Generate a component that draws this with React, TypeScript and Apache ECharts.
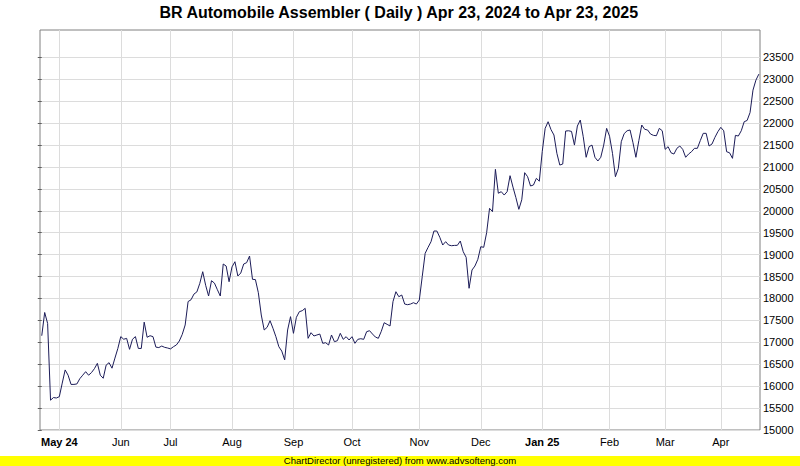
import React, { useEffect, useRef } from "react";
import * as echarts from "echarts";

const TITLE = "BR Automobile Assembler ( Daily ) Apr 23, 2024 to Apr 23, 2025";
const FOOTER = "ChartDirector (unregistered) from www.advsofteng.com";

// month label positions (trading-day index) and texts
const monthIdx = [6, 27, 44, 65, 86, 106, 129, 150, 171, 194, 213, 232];
const monthLabels = ["May 24", "Jun", "Jul", "Aug", "Sep", "Oct", "Nov", "Dec", "Jan 25", "Feb", "Mar", "Apr"];
const boldLabels = ["May 24", "Jan 25"];

const yTicks = [15000, 15500, 16000, 16500, 17000, 17500, 18000, 18500, 19000, 19500, 20000, 20500, 21000, 21500, 22000, 22500, 23000, 23500];

// daily close values, one per trading day
const values = [
  17150, 17680, 17430, 15680, 15740, 15730, 15760, 16070, 16370, 16250,
  16040, 16040, 16050, 16170, 16250, 16330, 16250, 16310, 16400, 16520,
  16250, 16180, 16480, 16535, 16410, 16640, 16860, 17130, 17070, 17090,
  16840, 17070, 17130, 16860, 16860, 17460, 17115, 17150, 17130, 16890,
  16880, 16915, 16885, 16870, 16850, 16900, 16940, 17030, 17180, 17395,
  17930, 17970, 18100, 18150, 18345, 18610, 18300, 18056, 18405, 18350,
  18200, 18056, 18786, 18740, 18382, 18720, 18838, 18512, 18580, 18786,
  18816, 18968, 18437, 18430, 18132, 17623, 17281, 17342, 17493, 17319,
  17128, 16900, 16800, 16600, 17281, 17585, 17205, 17570, 17698, 17721,
  17775, 17091, 17219, 17144, 17167, 17189, 16977, 16991, 16938, 17167,
  17014, 17037, 17205, 17068, 17128, 17053, 17128, 16977, 17068, 17082,
  17068, 17242, 17265, 17189, 17120, 17091, 17250, 17447, 17410, 17372,
  17927, 18154, 18040, 18079, 17873, 17858, 17873, 17903, 17873, 17965,
  18500, 19030, 19167, 19295, 19538, 19538, 19395, 19219, 19295, 19219,
  19203, 19210, 19212, 19310, 19066, 18938, 18232, 18649, 18740, 18893,
  19180, 19167, 19500, 20056, 19980, 20945, 20400, 20435, 20359, 20435,
  20800, 20540, 20300, 20033, 20250, 20869, 20777, 20565, 20588, 20740,
  20675, 21350, 21880, 22031, 21850, 21728, 21310, 21043, 21066, 21819,
  21825, 21810, 21498, 21933, 22069, 21690, 21220, 21462, 21498, 21220,
  21135, 21220, 21498, 21880, 21700, 21310, 20777, 20968, 21575, 21760,
  21825, 21842, 21552, 21220, 21600, 21956, 21858, 21842, 21750, 21720,
  21712, 21880, 21825, 21401, 21462, 21323, 21294, 21424, 21477, 21401,
  21220, 21294, 21347, 21424, 21424, 21600, 21766, 21766, 21477, 21523,
  21675, 21803, 21903, 21825, 21347, 21323, 21196, 21720, 21705, 21825,
  22031, 22060, 22240, 22751, 22979, 23116,
];

export default function App() {
  const ref = useRef<HTMLDivElement>(null);

  useEffect(() => {
    if (!ref.current) return;
    const chart = echarts.init(ref.current, null, { renderer: "svg" });
    const font = "'Liberation Sans', Arial, sans-serif";
    const option = {
      animation: false,
      backgroundColor: "#ffffff",
      textStyle: { fontFamily: font },
      grid: {
        left: 40,
        top: 30,
        width: 720,
        height: 400,
        show: true,
        backgroundColor: "#ffffff",
        borderColor: "#808080",
        borderWidth: 1,
      },
      xAxis: {
        type: "value",
        min: -0.6,
        max: 245.4,
        axisLine: { show: false },
        axisTick: { show: false, customValues: monthIdx },
        axisLabel: {
          customValues: monthIdx,
          fontSize: 11,
          fontFamily: font,
          color: "#000000",
          margin: 6,
          formatter: (val: number) => {
            const k = monthIdx.indexOf(Math.round(val));
            if (k < 0) return "";
            const t = monthLabels[k];
            return boldLabels.includes(t) ? `{b|${t}}` : t;
          },
          rich: {
            b: { fontWeight: "bold", fontSize: 11, fontFamily: font, color: "#000000" },
          },
        },
        splitLine: { show: true, lineStyle: { color: "#dcdcdc", width: 1 } },
      },
      yAxis: {
        type: "value",
        position: "right",
        min: 15000,
        max: 24123,
        interval: 500,
        axisLine: { show: false },
        axisTick: {
          show: true,
          inside: true,
          length: 4,
          customValues: yTicks,
          lineStyle: { color: "#606060" },
        },
        axisLabel: {
          customValues: yTicks,
          fontSize: 11,
          fontFamily: font,
          color: "#000000",
          margin: 3,
          formatter: (v: number) => String(Math.round(v)),
        },
        splitLine: { show: true, lineStyle: { color: "#dcdcdc", width: 1 } },
      },
      series: [
        {
          type: "line",
          data: values.map((v, i) => [i, v]),
          showSymbol: false,
          symbol: "none",
          silent: true,
          lineStyle: { color: "#1c1c58", width: 1 },
        },
      ],
      graphic: [
        {
          type: "text",
          left: "center",
          top: 4,
          style: {
            text: TITLE,
            font: `bold 16px ${font}`,
            fill: "#000000",
          },
        },
        {
          type: "rect",
          shape: { x: 0, y: 456, width: 800, height: 10 },
          style: { fill: "#ffff00" },
        },
        {
          type: "text",
          left: "center",
          top: 455.5,
          style: {
            text: FOOTER,
            font: `9.5px ${font}`,
            fill: "#000000",
          },
        },
      ],
    };
    chart.setOption(option as any);
    return () => chart.dispose();
  }, []);

  return (
    <div
      ref={ref}
      style={{ position: "absolute", left: 0, top: 0, width: 800, height: 466 }}
    />
  );
}
